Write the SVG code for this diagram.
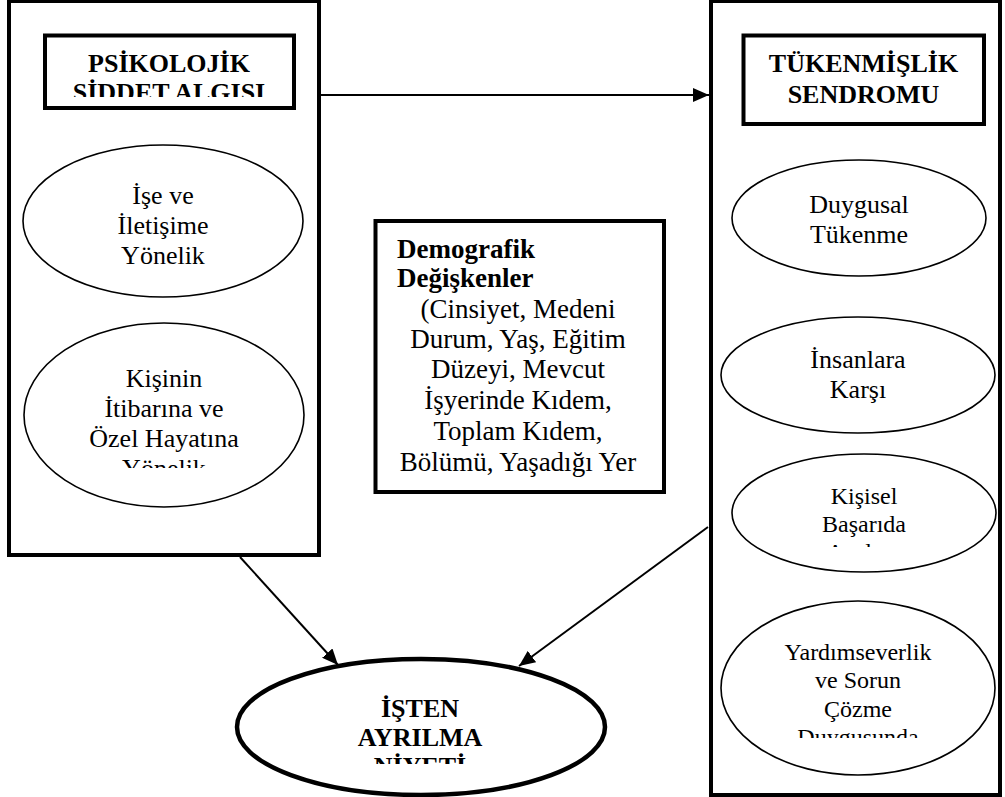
<svg xmlns="http://www.w3.org/2000/svg" width="1005" height="797" viewBox="0 0 1005 797">
<style>
.box{fill:none;stroke:#000;stroke-width:4}
.ell{fill:#fff;stroke:#000;stroke-width:1.6}
.ellb{fill:#fff;stroke:#000;stroke-width:4.5}
.t{font-family:"Liberation Serif","Times New Roman",serif;font-size:26px;fill:#000;text-anchor:middle}
.s{font-size:24px}
.d{font-size:27px}
.b{font-weight:bold}
.l{text-anchor:start}
.conn{stroke:#000;stroke-width:2;fill:none}
</style>
<defs>
<marker id="ah" markerUnits="userSpaceOnUse" markerWidth="18" markerHeight="14" refX="16" refY="7" orient="auto">
<path d="M0,0 L16,7 L0,14 Z" fill="#000"/>
</marker>
<clipPath id="c1"><rect x="0" y="0" width="1005" height="97"/></clipPath>
<clipPath id="c2"><rect x="0" y="0" width="1005" height="468"/></clipPath>
<clipPath id="c3"><rect x="0" y="0" width="1005" height="547"/></clipPath>
<clipPath id="c4"><rect x="0" y="0" width="1005" height="738"/></clipPath>
<clipPath id="c5"><rect x="0" y="0" width="1005" height="764"/></clipPath>
</defs>
<rect width="1005" height="797" fill="#fff"/>
<g id="psikolojik">
<rect class="box" x="9" y="1" width="310" height="554"/>
<rect class="box" x="45" y="35.5" width="249" height="72.5"/>
<g clip-path="url(#c1)">
<text class="t b" x="169" y="72">PSİKOLOJİK</text>
<text class="t b" x="169" y="101">SİDDET ALGISI</text>
</g>
</g>
<g id="ise-iletisime">
<ellipse class="ell" cx="163" cy="221" rx="140" ry="76"/>
<text class="t" x="163" y="204">İşe ve</text>
<text class="t" x="163" y="234">İletişime</text>
<text class="t" x="163" y="264">Yönelik</text>
</g>
<g id="kisinin-itibarina">
<ellipse class="ell" cx="164" cy="415" rx="140" ry="92"/>
<g clip-path="url(#c2)">
<text class="t" x="164" y="387">Kişinin</text>
<text class="t" x="164" y="417">İtibarına ve</text>
<text class="t" x="164" y="447">Özel Hayatına</text>
<text class="t" x="164" y="477">Yönelik</text>
</g>
</g>
<g id="tukenmislik">
<rect class="box" x="711" y="1" width="289" height="794"/>
<rect class="box" x="743.5" y="35.5" width="240.5" height="88.5"/>
<text class="t b" x="863.5" y="72">TÜKENMİŞLİK</text>
<text class="t b" x="863.5" y="103">SENDROMU</text>
</g>
<g id="duygusal-tukenme">
<ellipse class="ell" cx="859" cy="218" rx="127" ry="58"/>
<text class="t" x="859" y="213">Duygusal</text>
<text class="t" x="859" y="243">Tükenme</text>
</g>
<g id="insanlara-karsi">
<ellipse class="ell" cx="858" cy="375" rx="137" ry="58"/>
<text class="t" x="858" y="368">İnsanlara</text>
<text class="t" x="858" y="398">Karşı</text>
</g>
<g id="kisisel-basarida">
<ellipse class="ell" cx="864" cy="513" rx="132" ry="59"/>
<g clip-path="url(#c3)">
<text class="t s" x="864" y="504">Kişisel</text>
<text class="t s" x="864" y="532">Başarıda</text>
<text class="t s" x="864" y="560">Azalma</text>
</g>
</g>
<g id="yardimseverlik">
<ellipse class="ell" cx="858" cy="688" rx="137" ry="87"/>
<g clip-path="url(#c4)">
<text class="t s" x="858" y="660">Yardımseverlik</text>
<text class="t s" x="858" y="688">ve Sorun</text>
<text class="t s" x="858" y="717">Çözme</text>
<text class="t s" x="858" y="745">Duygusunda</text>
</g>
</g>
<g id="demografik">
<rect class="box" x="375.5" y="221" width="288.5" height="271"/>
<text class="t d b l" x="397" y="258">Demografik</text>
<text class="t d b l" x="397" y="287">Değişkenler</text>
<text class="t d" x="518" y="318">(Cinsiyet, Medeni</text>
<text class="t d" x="518" y="348">Durum, Yaş, Eğitim</text>
<text class="t d" x="518" y="378">Düzeyi, Mevcut</text>
<text class="t d" x="518" y="409">İşyerinde Kıdem,</text>
<text class="t d" x="518" y="440">Toplam Kıdem,</text>
<text class="t d" x="518" y="471">Bölümü, Yaşadığı Yer</text>
</g>
<g id="isten-ayrilma">
<ellipse class="ellb" cx="421" cy="727" rx="184" ry="68"/>
<g clip-path="url(#c5)">
<text class="t b" x="420" y="717">İŞTEN</text>
<text class="t b" x="420" y="746">AYRILMA</text>
<text class="t b" x="420" y="775">NİYETİ</text>
</g>
</g>
<g id="connectors">
<line class="conn" x1="321" y1="95" x2="709" y2="95" marker-end="url(#ah)"/>
<line class="conn" x1="240" y1="557" x2="338" y2="665" marker-end="url(#ah)"/>
<line class="conn" x1="708" y1="527" x2="519" y2="666" marker-end="url(#ah)"/>
</g>
</svg>
